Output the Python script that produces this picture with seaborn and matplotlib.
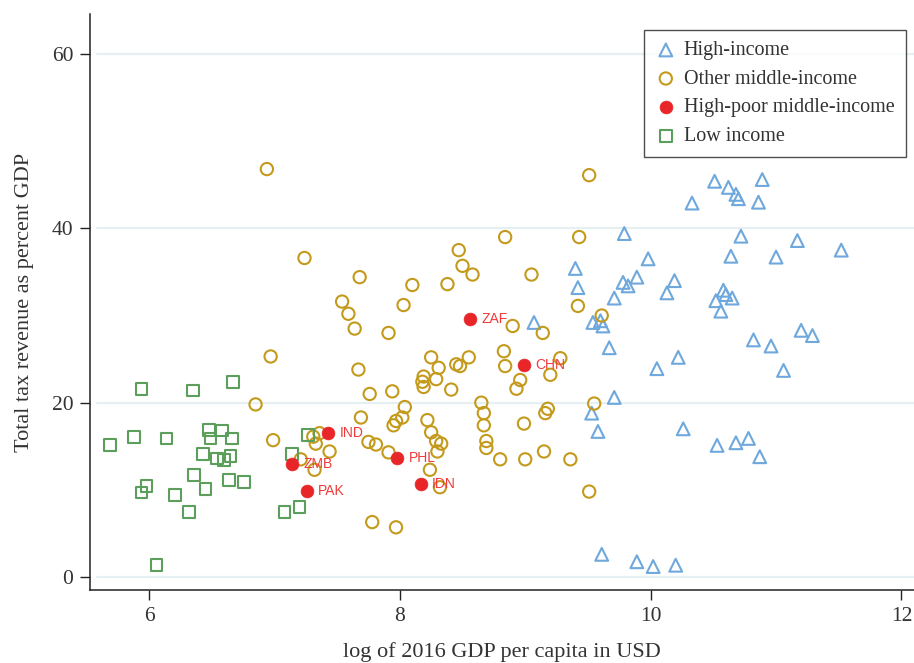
import numpy as np
import pandas as pd
import seaborn as sns
import matplotlib.pyplot as plt

# High-income countries (blue triangles)
high_x = [10.51, 10.62, 10.68, 10.70, 10.89, 10.86, 10.33, 9.79, 10.72, 11.17,
          11.52, 10.64, 11.00, 9.98, 9.40, 9.42, 9.78, 9.82, 9.89, 10.19,
          10.13, 10.58, 10.60, 10.65, 10.52, 10.56, 9.71, 9.54, 9.60, 9.62,
          9.67, 10.82, 10.96, 11.20, 11.29, 11.06, 10.22, 10.05, 9.71, 9.53,
          9.58, 10.26, 10.53, 10.68, 10.78, 10.87, 9.07, 9.61, 9.89, 10.02, 10.20]
high_y = [45.4, 44.7, 43.9, 43.4, 45.6, 43.0, 42.9, 39.4, 39.1, 38.6,
          37.5, 36.8, 36.7, 36.5, 35.4, 33.2, 33.8, 33.4, 34.4, 34.0,
          32.6, 32.9, 32.4, 32.0, 31.7, 30.5, 32.0, 29.2, 29.4, 28.8,
          26.3, 27.2, 26.5, 28.3, 27.7, 23.7, 25.2, 23.9, 20.6, 18.8,
          16.7, 17.0, 15.1, 15.4, 15.9, 13.8, 29.2, 2.6, 1.75, 1.2, 1.35]

# Other middle-income countries (gold circles)
mid_x = [6.94, 9.51, 8.84, 9.43, 7.24, 8.47, 8.50, 8.58, 9.05, 7.68,
         8.10, 8.38, 7.54, 7.59, 8.03, 9.42, 9.61, 7.64, 7.91, 8.90,
         9.14, 6.97, 8.25, 8.31, 8.45, 8.48, 8.55, 8.83, 8.84, 9.28,
         9.20, 8.96, 8.93, 8.19, 8.18, 8.19, 8.29, 8.41, 7.67, 7.94,
         7.76, 6.85, 8.04, 8.02, 7.97, 7.95, 7.69, 8.22, 8.25, 8.29,
         8.33, 8.30, 8.65, 8.67, 8.67, 8.69, 8.69, 8.80, 9.00, 8.99,
         9.15, 9.16, 9.18, 9.36, 9.51, 9.55, 6.99, 7.31, 7.36, 7.33,
         7.44, 7.21, 7.32, 7.75, 7.81, 7.78, 7.91, 8.24, 8.32, 7.97]
mid_y = [46.8, 46.1, 39.0, 39.0, 36.6, 37.5, 35.7, 34.7, 34.7, 34.4,
         33.5, 33.6, 31.6, 30.2, 31.2, 31.1, 30.0, 28.5, 28.0, 28.8,
         28.0, 25.3, 25.2, 24.0, 24.4, 24.2, 25.2, 25.9, 24.2, 25.1,
         23.2, 22.6, 21.6, 23.0, 22.4, 21.8, 22.7, 21.5, 23.8, 21.3,
         21.0, 19.8, 19.5, 18.3, 17.9, 17.4, 18.3, 18.0, 16.6, 15.6,
         15.3, 14.4, 20.0, 18.8, 17.4, 15.6, 14.8, 13.5, 13.5, 17.6,
         14.4, 18.8, 19.3, 13.5, 9.8, 19.9, 15.7, 16.1, 16.5, 15.3,
         14.4, 13.5, 12.3, 15.5, 15.2, 6.3, 14.3, 12.3, 10.3, 5.7]

# High-poor middle-income countries (red dots, labelled)
poor_codes = ["ZMB", "IND", "PAK", "ZAF", "CHN", "PHL", "IDN"]
poor_x = [7.14, 7.43, 7.26, 8.56, 8.99, 7.98, 8.17]
poor_y = [13.0, 16.5, 9.9, 29.6, 24.3, 13.6, 10.7]

# Low income countries (green squares)
low_x = [5.94, 6.35, 6.67, 5.69, 5.88, 6.14, 6.48, 6.58, 6.49, 6.66,
         6.43, 6.54, 6.60, 6.65, 6.36, 5.98, 5.94, 6.21, 6.45, 6.64,
         6.76, 6.32, 7.08, 7.20, 6.06, 7.27, 7.14]
low_y = [21.6, 21.4, 22.4, 15.1, 16.1, 15.9, 16.9, 16.8, 15.9, 15.9,
         14.1, 13.6, 13.4, 13.9, 11.7, 10.4, 9.7, 9.4, 10.1, 11.1,
         10.9, 7.5, 7.5, 8.0, 1.4, 16.3, 14.1]

y_ticks = [0, 20, 40, 60]
x_ticks = [6, 8, 10, 12]

sns.set_style("white")
plt.rcParams['font.family'] = ['Liberation Serif', 'DejaVu Serif']

fig = plt.figure(figsize=(9.14, 6.63), dpi=100)
ax = fig.add_axes([0.0985, 0.110, 0.9015, 0.869])

for yt in y_ticks:
    ax.axhline(yt, xmin=0.008, xmax=1, color="#e6f0f2", lw=1.6, zorder=0)

sns.scatterplot(x=high_x, y=high_y, marker="^", s=85, facecolor="none",
                edgecolor="#6ea8dc", linewidth=1.5, label="High-income", ax=ax, zorder=3)
sns.scatterplot(x=mid_x, y=mid_y, marker="o", s=78, facecolor="none",
                edgecolor="#c49a1c", linewidth=1.5, label="Other middle-income", ax=ax, zorder=3)
sns.scatterplot(x=poor_x, y=poor_y, marker="o", s=85, color="#e8262a",
                edgecolor="#e8262a", linewidth=0.5, label="High-poor middle-income", ax=ax, zorder=5)
sns.scatterplot(x=low_x, y=low_y, marker="s", s=72, facecolor="none",
                edgecolor="#5c9e5c", linewidth=1.5, label="Low income", ax=ax, zorder=3)

for code, px, py in zip(poor_codes, poor_x, poor_y):
    ax.annotate(code, (px, py), xytext=(8, 0), textcoords="offset points",
                va="center", ha="left", fontsize=10, color="#f03a3a",
                family=["Liberation Sans", "DejaVu Sans"], zorder=6)

ax.set_xlim(5.53, 12.1)
ax.set_ylim(-1.5, 64.6)
ax.set_xticks(x_ticks)
ax.set_yticks(y_ticks)
ax.tick_params(axis="both", direction="out", length=7, width=1, color="#222222",
               labelsize=15.5, labelcolor="#333333", pad=5)
ax.tick_params(left=True, bottom=True)

sns.despine(ax=ax)
for side in ["left", "bottom"]:
    ax.spines[side].set_color("#222222")
    ax.spines[side].set_linewidth(1.1)

ax.set_xlabel("log of 2016 GDP per capita in USD", fontsize=16, color="#333333", labelpad=12)
ax.set_ylabel("Total tax revenue as percent GDP", fontsize=16, color="#333333", labelpad=13)

leg = ax.legend(loc="upper right", bbox_to_anchor=(0.99, 0.972), borderaxespad=0,
                fontsize=14.5, frameon=True, fancybox=False, edgecolor="#222222",
                handletextpad=0.35, labelspacing=0.47, borderpad=0.55, handlelength=1.1)
leg.get_frame().set_linewidth(1.0)
for t in leg.get_texts():
    t.set_color("#333333")

fig.savefig("out.png", dpi=100)
